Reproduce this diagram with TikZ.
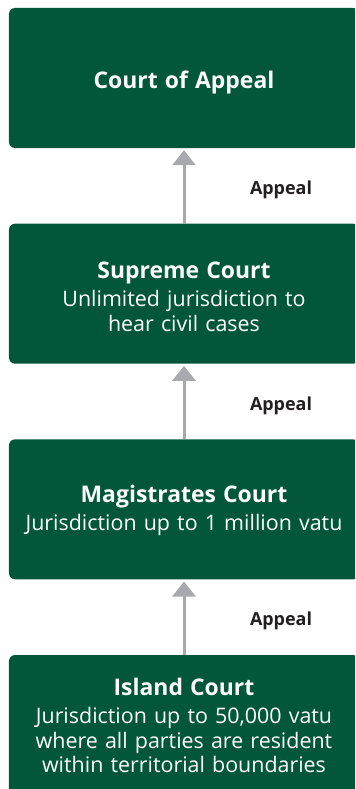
\documentclass[tikz,border=0pt]{standalone}
\usepackage{fontspec}
\setmainfont{Open Sans}
\usetikzlibrary{arrows.meta}
\definecolor{courtgreen}{HTML}{02573B}
\definecolor{arrowgray}{HTML}{A7A9AC}
\definecolor{labeltext}{HTML}{231F20}
\tikzset{
  courtbox/.style={fill=courtgreen, rounded corners=6bp, minimum width=350bp, minimum height=140bp,
    inner sep=0pt},
  courttext/.style={text=white, text width=345bp, align=center, inner sep=0pt, anchor=base,
    font=\fontsize{21.5}{24.5}\selectfont},
  uparrow/.style={draw=arrowgray, line width=3bp, -{Triangle[width=23bp,length=15bp]}, shorten >=2bp},
  appeallabel/.style={text=labeltext, font=\bfseries\fontsize{18}{20}\selectfont, inner sep=0pt, anchor=base},
}
\newcommand{\courttitle}[1]{{\bfseries\fontsize{23}{27}\selectfont #1}}
\begin{document}
\begin{tikzpicture}[x=1bp,y=1bp]
\useasboundingbox (0,0) rectangle (355,-789);
\clip (0,0) rectangle (355,-789);
\node[courtbox] (coa) at (184,-78) {};
\node[courtbox] (sc) at (184,-293.7) {};
\node[courtbox] (mc) at (184,-509.3) {};
\node[courtbox] (ic) at (184,-725) {};
\node[courttext] (coat) at (184,-88.3) {\courttitle{Court of Appeal}};
\node[courttext] (sct) at (184,-278.5) {\courttitle{Supreme Court}\\[4bp]Unlimited jurisdiction to\\hear civil cases};
\node[courttext] (mct) at (184,-502.5) {\courttitle{Magistrates Court}\\[4bp]Jurisdiction up to 1 million vatu};
\node[courttext] (ict) at (184,-695) {\courttitle{Island Court}\\[4.5bp]Jurisdiction up to 50,000 vatu\\where all parties are resident\\within territorial boundaries};
\draw[uparrow] (sc.north) -- (coa.south);
\draw[uparrow] (mc.north) -- (sc.south);
\draw[uparrow] (ic.north) -- (mc.south);
\node[appeallabel] (a1) at (281,-194.3) {Appeal};
\node[appeallabel] (a2) at (281,-410) {Appeal};
\node[appeallabel] (a3) at (281,-625.7) {Appeal};
\end{tikzpicture}
\end{document}
